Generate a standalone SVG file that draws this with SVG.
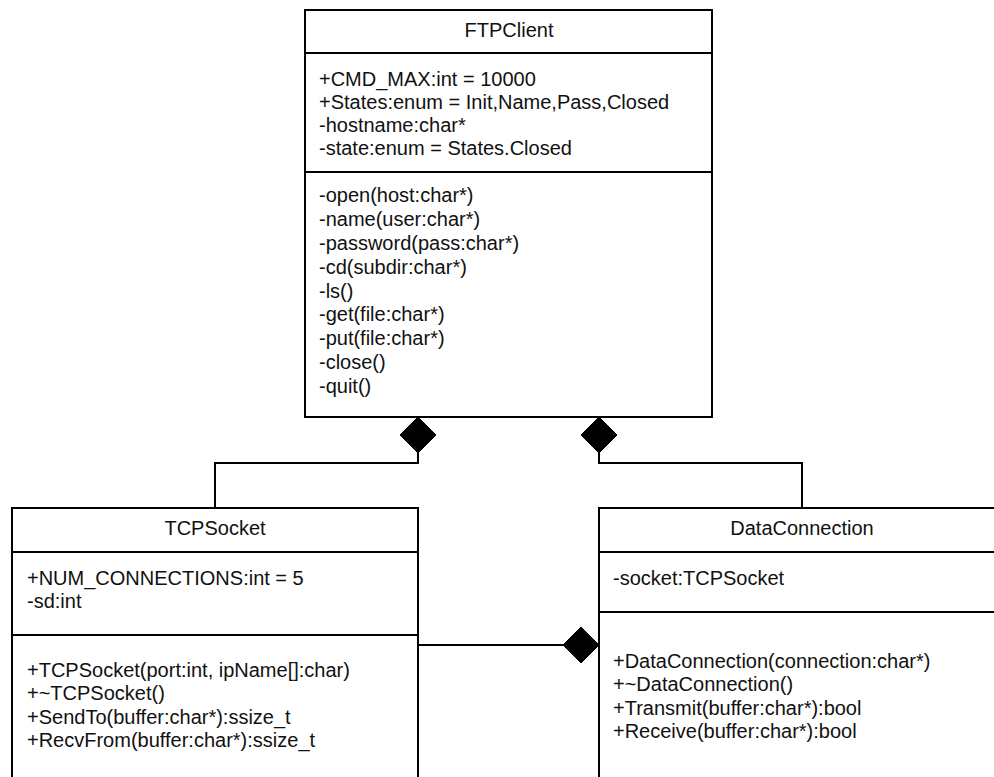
<svg xmlns="http://www.w3.org/2000/svg" width="994" height="777" viewBox="0 0 994 777">
<style>
.box{fill:#fff;stroke:#000;stroke-width:2}
.div{stroke:#000;stroke-width:2}
.t{font-family:"Liberation Sans",Arial,sans-serif;font-size:20px;fill:#111}
.c{text-anchor:middle}
.conn{fill:none;stroke:#000;stroke-width:2}
.dia{fill:#000;stroke:#000;stroke-width:1}
</style>
<rect x="0" y="0" width="994" height="777" fill="#fff"/>
<g id="FTPClient">
<rect class="box" x="305" y="10" width="407" height="407"/>
<line class="div" x1="305" y1="53" x2="712" y2="53"/>
<line class="div" x1="305" y1="172" x2="712" y2="172"/>
<text class="t c" x="509" y="37">FTPClient</text>
<text class="t" x="319" y="86">+CMD_MAX:int = 10000</text>
<text class="t" x="319" y="109">+States:enum = Init,Name,Pass,Closed</text>
<text class="t" x="319" y="132">-hostname:char*</text>
<text class="t" x="319" y="155">-state:enum = States.Closed</text>
<text class="t" x="319" y="202">-open(host:char*)</text>
<text class="t" x="319" y="226">-name(user:char*)</text>
<text class="t" x="319" y="250">-password(pass:char*)</text>
<text class="t" x="319" y="274">-cd(subdir:char*)</text>
<text class="t" x="319" y="298">-ls()</text>
<text class="t" x="319" y="321">-get(file:char*)</text>
<text class="t" x="319" y="345">-put(file:char*)</text>
<text class="t" x="319" y="369">-close()</text>
<text class="t" x="319" y="393">-quit()</text>
</g>
<g id="TCPSocket">
<rect class="box" x="12" y="508" width="406" height="290"/>
<line class="div" x1="12" y1="552" x2="418" y2="552"/>
<line class="div" x1="12" y1="635" x2="418" y2="635"/>
<text class="t c" x="215" y="535">TCPSocket</text>
<text class="t" x="27" y="585">+NUM_CONNECTIONS:int = 5</text>
<text class="t" x="27" y="608">-sd:int</text>
<text class="t" x="27" y="677">+TCPSocket(port:int, ipName[]:char)</text>
<text class="t" x="27" y="700">+~TCPSocket()</text>
<text class="t" x="27" y="724">+SendTo(buffer:char*):ssize_t</text>
<text class="t" x="27" y="747">+RecvFrom(buffer:char*):ssize_t</text>
</g>
<g id="DataConnection">
<rect class="box" x="599" y="508" width="406" height="290"/>
<line class="div" x1="599" y1="552" x2="1005" y2="552"/>
<line class="div" x1="599" y1="612" x2="1005" y2="612"/>
<text class="t c" x="802" y="535">DataConnection</text>
<text class="t" x="613" y="585">-socket:TCPSocket</text>
<text class="t" x="613" y="668">+DataConnection(connection:char*)</text>
<text class="t" x="613" y="691">+~DataConnection()</text>
<text class="t" x="613" y="715">+Transmit(buffer:char*):bool</text>
<text class="t" x="613" y="738">+Receive(buffer:char*):bool</text>
</g>
<g id="connectors">
<polyline class="conn" points="418,453 418,463 215,463 215,508"/>
<polygon class="dia" points="418,417 436,435 418,453 400,435"/>
<polyline class="conn" points="599,453 599,463 802,463 802,508"/>
<polygon class="dia" points="599,417 617,435 599,453 581,435"/>
<line class="conn" x1="418" y1="645" x2="563" y2="645"/>
<polygon class="dia" points="599,645 581,663 563,645 581,627"/>
</g>
</svg>
